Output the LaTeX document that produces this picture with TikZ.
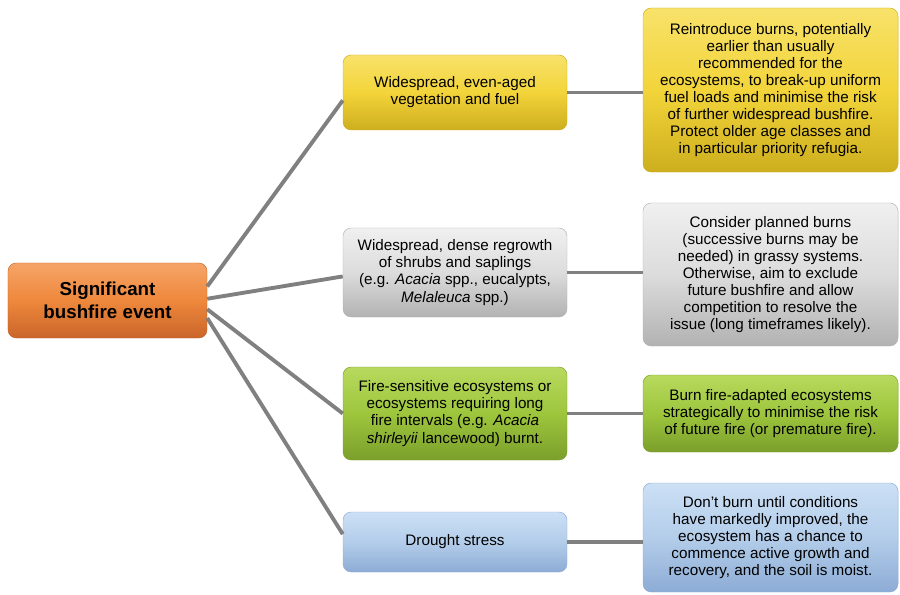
\documentclass[tikz,border=0pt]{standalone}
\usepackage{fontspec}
\setmainfont{Liberation Sans}
\definecolor{linkgrey}{HTML}{808080}
\definecolor{orangetop}{HTML}{F6A468}
\definecolor{orangemid}{HTML}{EE883C}
\definecolor{orangebot}{HTML}{C9652A}
\definecolor{yellowtop}{HTML}{F8E26A}
\definecolor{yellowmid}{HTML}{F2D43A}
\definecolor{yellowbot}{HTML}{CDAE1E}
\definecolor{greytop}{HTML}{F0F0F0}
\definecolor{greymid}{HTML}{DCDCDC}
\definecolor{greybot}{HTML}{B2B2B2}
\definecolor{greentop}{HTML}{B8D95E}
\definecolor{greenmid}{HTML}{9DC63D}
\definecolor{greenbot}{HTML}{7B9F2B}
\definecolor{bluetop}{HTML}{CCE0F5}
\definecolor{bluemid}{HTML}{B3CDEA}
\definecolor{bluebot}{HTML}{8DACD5}

\begin{document}
\begin{tikzpicture}[x=0.03cm, y=-0.03cm,
    card/.style={rounded corners=7pt, align=center, text=black, inner sep=2pt,
                 line width=0.4pt, font=\fontsize{13}{14.6}\selectfont},
    cause/.style={card, minimum width=6.72cm},
    action/.style={card, minimum width=7.65cm},
    root/.style={card, minimum width=5.97cm, minimum height=2.25cm,
                 font=\fontsize{16}{19.6}\selectfont\bfseries,
                 top color=orangetop, bottom color=orangebot, middle color=orangemid, draw=orangebot},
    yellowcard/.style={top color=yellowtop, bottom color=yellowbot, middle color=yellowmid, draw=yellowbot},
    greycard/.style={top color=greytop, bottom color=greybot, middle color=greymid, draw=greybot},
    greencard/.style={top color=greentop, bottom color=greenbot, middle color=greenmid, draw=greenbot},
    bluecard/.style={top color=bluetop, bottom color=bluebot, middle color=bluemid, draw=bluebot},
    link/.style={draw=linkgrey, line width=3.3pt}
  ]
    \useasboundingbox (0,0) rectangle (900,595);

    % root
    \node[root] (event) at (107.5,300.5) {Significant\\bushfire event};

    % causes
    \node[cause, yellowcard, minimum height=2.25cm] (fuel) at (455,92.5)
      {Widespread, even-aged\\vegetation and fuel};
    \node[cause, greycard, minimum height=2.67cm] (regrowth) at (455,272.5)
      {Widespread, dense regrowth\\of shrubs and saplings\\(e.g. \textit{Acacia} spp., eucalypts,\\\textit{Melaleuca} spp.)};
    \node[cause, greencard, minimum height=2.79cm] (sensitive) at (455,413.5)
      {Fire-sensitive ecosystems or\\ecosystems requiring long\\fire intervals (e.g. \textit{Acacia}\\\textit{shirleyii} lancewood) burnt.};
    \node[cause, bluecard, minimum height=1.8cm] (drought) at (455,542)
      {Drought stress};

    % actions
    \node[action, yellowcard, minimum height=4.92cm] (reburn) at (770.5,90)
      {Reintroduce burns, potentially\\earlier than usually\\recommended for the\\ecosystems, to break-up uniform\\fuel loads and minimise the risk\\of further widespread bushfire.\\Protect older age classes and\\in particular priority refugia.};
    \node[action, greycard, minimum height=4.29cm] (planned) at (770.5,274.5)
      {Consider planned burns\\(successive burns may be\\needed) in grassy systems.\\Otherwise, aim to exclude\\future bushfire and allow\\competition to resolve the\\issue (long timeframes likely).};
    \node[action, greencard, minimum height=2.31cm] (strategic) at (770.5,413.5)
      {Burn fire-adapted ecosystems\\strategically to minimise the risk\\of future fire (or premature fire).};
    \node[action, bluecard, minimum height=3.27cm] (wait) at (770.5,537.5)
      {Don’t burn until conditions\\have markedly improved, the\\ecosystem has a chance to\\commence active growth and\\recovery, and the soil is moist.};

    \draw[link] (event.8)  -- (fuel.184);
    \draw[link] (event.1)  -- (regrowth.182);
    \draw[link] (event.-5) -- (sensitive.west);
    \draw[link] (event.-10) -- (drought.176);

    \draw[link] (fuel.east)      -- (fuel.east -| reburn.west);
    \draw[link] (regrowth.east)  -- (regrowth.east -| planned.west);
    \draw[link] (sensitive.east) -- (sensitive.east -| strategic.west);
    \draw[link] (drought.east)   -- (drought.east -| wait.west);
  \end{tikzpicture}
\end{document}
